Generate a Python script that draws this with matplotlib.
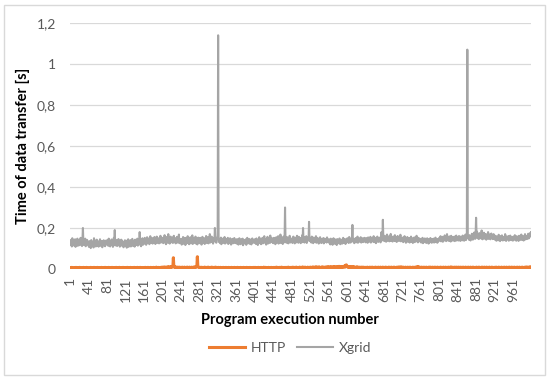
import numpy as np
import matplotlib
matplotlib.use("Agg")
import matplotlib.pyplot as plt
from matplotlib.patches import Rectangle

plt.rcParams['font.family'] = ['Lato', 'DejaVu Sans']

# Xgrid transfer times [ms], executions 1..1000 (40 per row)
xgrid_ms = [
    135,118,142,125,110,150,128,139,115,131,122,145,108,137,126,119,148,113,134,127,141,116,129,152,121,138,112,144,200,124,117,139,126,148,111,133,121,142,129,118,
    124,108,136,115,129,102,141,119,126,112,133,105,150,121,117,138,110,127,143,114,122,135,109,130,118,145,113,128,121,137,106,132,124,140,116,129,111,138,125,134,
    119,142,127,113,148,122,136,110,131,125,144,117,139,108,129,152,121,190,115,134,126,141,112,137,123,146,118,130,109,135,127,143,114,138,120,132,106,129,117,140,
    125,112,138,104,130,119,145,108,127,134,116,141,110,128,123,147,113,136,120,131,109,143,126,117,139,122,148,114,133,128,119,180,124,137,111,142,129,150,118,135,
    140,123,152,129,146,118,137,155,126,143,131,149,121,138,160,127,144,133,151,124,139,147,128,156,135,122,145,132,158,127,141,136,150,125,143,130,162,129,138,146,
    134,152,126,147,138,165,129,143,121,156,137,145,128,170,133,149,124,141,158,130,146,135,153,127,144,162,131,139,150,125,148,136,157,129,142,133,168,126,145,139,
    128,147,119,141,135,156,123,144,131,152,117,138,149,126,143,160,129,137,121,146,134,155,125,142,130,164,122,140,151,127,145,133,158,124,139,148,120,136,153,131,
    137,126,152,131,145,119,140,157,128,143,134,150,122,146,138,161,127,141,133,155,125,148,136,170,129,144,139,158,131,147,124,143,152,135,200,138,149,128,146,153,
    160,1140,150,132,144,126,139,153,121,141,135,148,127,143,131,156,124,138,146,129,141,133,152,122,137,145,128,150,134,119,142,130,147,125,139,136,151,127,143,132,
    138,124,146,131,142,119,135,150,127,140,121,144,133,129,148,116,137,142,125,139,130,145,118,136,152,126,141,132,147,123,138,129,144,120,135,149,127,140,134,143,
    128,145,136,122,149,131,140,117,143,134,155,126,138,147,121,141,130,152,125,144,136,160,128,139,146,119,143,133,157,124,148,137,142,127,163,131,145,138,150,129,
    140,126,152,133,147,121,138,155,129,144,135,160,124,142,150,131,168,127,146,137,153,122,141,158,130,145,300,136,149,128,156,139,143,125,151,134,162,129,147,138,
    132,149,127,144,158,136,141,125,153,138,146,130,162,135,143,128,157,140,133,151,126,145,139,164,131,200,137,148,129,155,142,134,160,127,146,139,152,143,230,136,
    150,138,145,129,158,134,141,126,153,137,147,131,144,160,128,139,152,135,143,124,149,136,155,130,142,127,146,138,133,151,125,140,148,132,137,145,129,154,136,141,
    131,145,127,139,120,148,134,126,142,118,137,150,129,135,123,144,132,140,117,146,128,138,133,125,149,136,121,141,130,143,124,137,152,128,140,135,146,122,139,133,
    138,150,131,145,127,156,134,142,129,148,136,153,215,140,132,147,126,143,138,151,130,145,135,158,128,142,149,133,146,137,155,129,144,139,150,131,147,136,152,134,
    143,130,151,137,146,128,154,139,133,148,141,157,129,145,136,150,134,143,160,131,147,138,152,126,144,135,158,140,132,149,137,153,142,130,146,180,139,151,240,145,
    150,136,162,141,155,133,147,168,138,152,144,159,135,149,140,171,137,153,146,134,158,143,150,139,165,136,148,155,132,146,161,140,153,137,149,143,167,135,151,145,
    139,153,131,147,142,160,135,149,128,144,137,156,133,145,140,151,129,148,136,158,132,143,150,127,146,138,154,131,142,149,135,162,139,145,130,152,141,137,148,133,
    141,129,147,135,152,126,143,138,131,149,136,145,127,142,150,133,139,124,146,137,130,151,134,140,128,145,137,132,148,129,143,136,153,131,139,146,128,142,135,149,
    138,152,143,160,135,149,141,157,133,146,151,139,164,142,155,136,148,170,140,153,145,137,159,143,150,134,162,141,147,155,138,151,144,158,136,149,142,163,139,152,
    146,155,139,161,143,150,137,158,144,152,140,163,147,155,138,151,145,168,141,156,170,1070,160,148,157,142,165,150,139,154,146,172,151,143,160,149,178,155,147,168,
    250,165,182,150,171,158,146,175,161,153,168,149,188,157,145,163,152,177,148,160,155,171,143,158,166,150,180,147,162,154,169,145,157,173,151,164,146,159,170,148,
    156,143,162,149,138,158,145,153,140,167,147,155,136,160,151,142,164,148,139,157,146,153,141,170,149,137,158,144,152,146,161,138,155,147,163,141,150,145,157,139,
    152,140,158,146,165,143,151,138,160,149,144,156,137,162,150,141,155,147,168,142,153,145,160,139,157,148,170,144,152,158,146,163,150,172,149,160,155,175,165,180,
]

# HTTP transfer times [ms], executions 1..1000 (40 per row)
http_ms = [
    6,7,5,6,8,6,5,7,6,6,7,5,6,8,6,7,5,6,7,6,6,8,5,7,6,6,7,5,6,8,6,7,6,5,7,6,8,6,5,7,
    7,6,5,6,7,8,6,5,6,7,6,6,8,5,7,6,5,7,6,8,6,5,6,7,6,7,5,6,8,6,7,6,5,6,7,6,8,5,6,7,
    6,5,7,6,8,6,7,5,6,6,7,8,5,6,7,6,5,7,6,6,8,7,5,6,6,7,5,8,6,7,6,5,7,6,6,8,5,7,6,6,
    7,6,6,5,8,6,7,6,5,7,6,8,6,5,7,6,6,7,5,8,6,6,7,5,6,7,8,6,5,6,7,6,8,5,6,7,6,5,7,6,
    6,7,5,8,6,6,7,5,6,8,7,6,5,6,7,8,6,5,7,6,6,8,7,5,6,7,6,9,6,5,7,8,6,6,7,5,8,6,7,9,
    8,7,9,6,8,10,7,8,6,9,7,8,11,7,9,8,10,7,9,8,12,9,10,14,55,12,9,8,10,7,9,8,7,9,6,8,7,9,8,7,
    8,7,6,9,7,8,6,7,9,8,7,6,8,7,9,6,8,7,7,9,8,6,7,8,9,7,6,8,7,10,8,9,7,8,12,15,60,14,9,8,
    7,8,6,7,9,7,6,8,7,6,8,7,9,6,7,8,6,7,7,9,6,8,7,6,8,7,6,9,7,8,6,7,8,6,7,9,6,7,8,7,
    6,7,8,6,7,5,8,6,7,6,5,7,8,6,6,7,5,6,8,7,6,5,7,6,8,6,7,5,6,7,8,6,5,7,6,6,8,7,5,6,
    7,6,5,8,6,7,6,5,7,6,8,6,6,7,5,6,8,7,6,5,7,6,6,8,5,7,6,7,5,6,8,6,7,6,5,7,6,8,6,7,
    6,8,5,7,6,6,7,5,8,6,7,6,5,6,8,7,6,5,7,6,9,6,7,5,8,6,6,7,5,6,8,7,6,6,5,7,8,6,7,6,
    7,6,8,6,5,7,6,9,7,6,8,5,7,6,8,7,6,5,9,7,6,8,7,6,5,7,8,6,7,6,8,5,7,9,6,7,6,8,7,6,
    8,7,6,9,7,6,8,7,5,7,9,6,8,7,6,7,8,6,9,7,6,8,7,6,10,7,8,6,7,9,6,8,7,7,6,9,8,7,6,8,
    7,9,6,8,7,6,10,8,7,9,6,8,7,11,8,7,9,6,8,10,7,9,8,7,6,9,8,10,7,8,9,7,8,6,10,9,7,8,11,8,
    9,8,10,7,9,8,11,8,7,10,9,8,12,9,7,10,8,9,11,8,10,9,8,13,10,9,8,11,9,10,8,12,9,10,14,11,9,18,12,20,
    15,11,9,10,8,12,10,9,8,11,9,10,8,9,11,8,10,9,8,7,9,8,10,7,9,8,7,9,8,6,8,9,7,8,7,9,6,8,7,8,
    7,8,6,7,9,7,8,6,7,8,9,7,6,8,7,9,8,6,7,8,7,6,9,7,8,6,7,8,9,7,6,8,7,9,7,6,8,7,9,8,
    7,6,8,7,9,6,8,7,6,8,7,9,6,8,7,7,9,6,8,7,8,6,9,7,8,7,6,8,7,9,6,8,7,10,8,7,9,8,10,7,
    8,7,9,6,8,7,7,9,8,6,7,8,9,7,6,8,7,9,8,7,6,8,7,9,7,8,6,8,9,7,8,10,8,9,12,10,8,9,7,8,
    8,7,9,8,6,8,7,9,7,8,6,7,9,8,7,6,8,7,9,8,7,9,6,8,7,8,9,7,6,8,7,9,8,7,6,8,9,7,8,7,
    7,8,6,9,7,8,7,6,8,9,7,8,6,7,9,8,7,6,8,7,9,7,8,6,7,10,8,7,9,8,6,8,7,9,7,8,6,9,7,8,
    8,7,9,6,8,7,8,9,7,6,8,7,9,8,6,7,8,9,7,8,6,8,7,9,7,8,6,7,9,8,7,6,8,9,7,8,7,6,8,7,
    7,9,8,6,7,8,9,7,8,6,7,8,7,9,6,8,7,8,9,7,6,8,7,9,8,7,6,8,7,9,8,7,6,8,9,7,8,6,7,8,
    8,7,6,9,7,8,7,6,8,9,7,8,6,7,8,9,7,6,8,7,8,9,6,8,7,7,9,8,6,7,8,7,9,6,8,7,8,9,7,8,
    7,8,6,9,8,7,6,8,7,9,7,8,6,7,9,8,7,6,8,7,9,8,7,6,8,7,9,7,8,10,8,7,9,8,7,9,8,10,8,9,
]

x_labels = list(range(1, 1001, 40))
y_ticks = [0, 0.2, 0.4, 0.6, 0.8, 1.0, 1.2]
y_labels = ["0", "0,2", "0,4", "0,6", "0,8", "1", "1,2"]

runs = np.arange(1, len(xgrid_ms) + 1)
xgrid = np.array(xgrid_ms) / 1000.0
http = np.array(http_ms) / 1000.0

W, H = 550, 379
fig = plt.figure(figsize=(W / 100, H / 100), dpi=100)
ax = fig.add_axes([70 / W, 1 - 269 / H, 461 / W, 246 / H])

ax.plot(runs, http, color="#ED7D31", lw=2.2, label="HTTP", zorder=3)
ax.plot(runs, xgrid, color="#A5A5A5", lw=1.5, label="Xgrid", zorder=2)

ax.set_xlim(1, 1000)
ax.set_ylim(0, 1.2)
ax.set_yticks(y_ticks)
ax.set_yticklabels(y_labels)
ax.set_xticks(x_labels)
ax.set_xticklabels([str(v) for v in x_labels], rotation=90)
ax.tick_params(axis="both", length=0, labelsize=10, labelcolor="#595959")
ax.tick_params(axis="x", pad=6)
ax.tick_params(axis="y", pad=10)
ax.grid(axis="y", color="#D9D9D9", lw=0.9)
ax.set_axisbelow(True)
for s in ax.spines.values():
    s.set_visible(False)

fig.text(23 / W, 1 - 146 / H, "Time of data transfer [s]", rotation=90,
         ha="center", va="center", fontsize=10.5, fontweight="bold", color="#000000")
fig.text(290 / W, 1 - 320 / H, "Program execution number",
         ha="center", va="center", fontsize=10.5, fontweight="bold", color="#000000")

fig.legend(loc="center", bbox_to_anchor=(290 / W, 1 - 348 / H), ncol=2, frameon=False,
           fontsize=10, handlelength=2.6, columnspacing=0.8, handletextpad=0.4,
           labelcolor="#595959")

# chart border
fig.patches.append(Rectangle((4 / W, 4 / H), 1 - 9 / W, 1 - 9 / H, transform=fig.transFigure,
                             fill=False, edgecolor="#D9D9D9", lw=1.0))

fig.savefig("out.png", dpi=100)
